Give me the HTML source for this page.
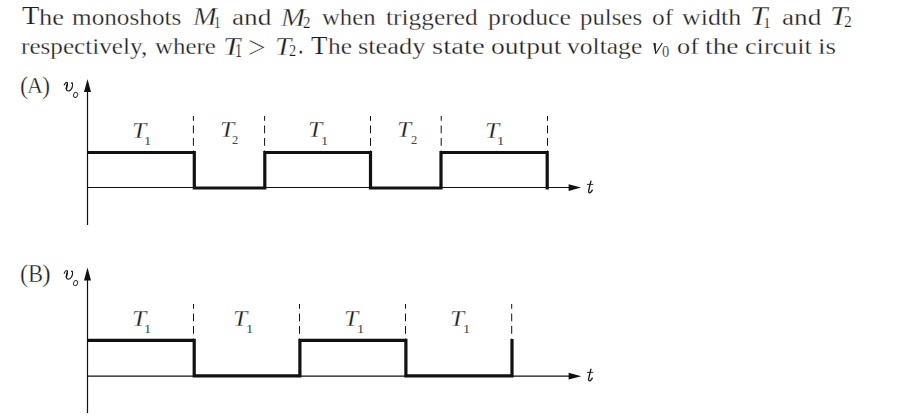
<!DOCTYPE html>
<html><head><meta charset="utf-8">
<style>
html,body{margin:0;padding:0;background:#fff;}
body{width:901px;height:418px;position:relative;overflow:hidden;font-family:"Liberation Serif",serif;color:#1c1c1c;}
.w{-webkit-text-stroke:0.3px #fff;position:absolute;white-space:nowrap;font-size:26px;line-height:1;transform-origin:0 21.8px;}
.sb{font-size:16px;position:relative;top:4px;margin-left:-1px;}
.L{position:absolute;white-space:nowrap;line-height:1;transform-origin:0 0;}
.lb{font-size:21px;-webkit-text-stroke:0.3px #fff;}
.lp{font-size:21px;-webkit-text-stroke:0.3px #fff;}
.lt{font-size:22px;-webkit-text-stroke:0.25px #fff;}
.ls{font-size:12px;color:#444;}
.mt{font-size:26px;-webkit-text-stroke:0.35px #fff;}
.mr{font-size:26px;-webkit-text-stroke:0.35px #fff;}
.mc{font-size:26px;-webkit-text-stroke:0.2px #fff;}
.ms{font-size:17px;-webkit-text-stroke:0.2px #fff;}
svg{position:absolute;left:0;top:0;}
</style></head><body>
<span class="w" id="a0" style="left:38.57px;top:4px;transform:scale(1.0166,0.86)">he</span>
<span class="w" id="a1" style="left:72.44px;top:4px;transform:scale(0.9707,0.86)">monoshots</span>
<span class="w" id="a2" style="left:231.76px;top:4px;transform:scale(1.0485,0.86)">and</span>
<span class="w" id="a3" style="left:322.40px;top:4px;transform:scale(0.9516,0.86)">when</span>
<span class="w" id="a4" style="left:386.22px;top:4px;transform:scale(0.9765,0.86)">triggered</span>
<span class="w" id="a5" style="left:488.17px;top:4px;transform:scale(0.9905,0.86)">produce</span>
<span class="w" id="a6" style="left:580.33px;top:4px;transform:scale(0.9546,0.86)">pulses</span>
<span class="w" id="a7" style="left:651.59px;top:4px;transform:scale(0.9757,0.86)">of</span>
<span class="w" id="a8" style="left:681.64px;top:4px;transform:scale(0.9980,0.86)">width</span>
<span class="w" id="a9" style="left:781.76px;top:4px;transform:scale(1.0485,0.86)">and</span>
<span class="w" id="b0" style="left:21.42px;top:33px;transform:scale(0.9675,0.86)">respectively,</span>
<span class="w" id="b1" style="left:155.40px;top:33px;transform:scale(0.9575,0.86)">where</span>
<span class="w" id="b2" style="left:328.17px;top:33px;transform:scale(0.9785,0.86)">he</span>
<span class="w" id="b3" style="left:358.29px;top:33px;transform:scale(1.0138,0.86)">steady</span>
<span class="w" id="b4" style="left:432.43px;top:33px;transform:scale(1.1049,0.86)">state</span>
<span class="w" id="b5" style="left:491.23px;top:33px;transform:scale(1.0594,0.86)">output</span>
<span class="w" id="b6" style="left:566.51px;top:33px;transform:scale(0.9831,0.86)">voltage</span>
<span class="w" id="b7" style="left:677.44px;top:33px;transform:scale(1.0132,0.86)">of</span>
<span class="w" id="b8" style="left:705.07px;top:33px;transform:scale(1.0561,0.86)">the</span>
<span class="w" id="b9" style="left:744.71px;top:33px;transform:scale(1.0064,0.86)">circuit</span>
<span class="w" id="b10" style="left:817.51px;top:33px;transform:scale(1.0415,0.86)">is</span>
<svg width="901" height="418" viewBox="0 0 901 418">
<g fill="none" stroke="#111">
  <line x1="87.5" y1="88" x2="87.5" y2="225" stroke-width="1.2"/>
  <line x1="87" y1="187.5" x2="572" y2="187.5" stroke-width="1.2"/>
  <polyline points="87,152.5 194.3,152.5 194.3,188 264.8,188 264.8,152.5 370.5,152.5 370.5,188 441,188 441,152.5 547.2,152.5 547.2,189.6" stroke-width="3.2"/>
  <g stroke-width="1" stroke-dasharray="7.8 4.7" stroke-dashoffset="3">
    <line x1="193.4" y1="116" x2="193.4" y2="151"/>
    <line x1="264.6" y1="116" x2="264.6" y2="151"/>
    <line x1="370.5" y1="116" x2="370.5" y2="151"/>
    <line x1="441.2" y1="116" x2="441.2" y2="151"/>
    <line x1="547.5" y1="116" x2="547.5" y2="151"/>
  </g>
  <line x1="87.5" y1="276" x2="87.5" y2="413" stroke-width="1.2"/>
  <line x1="87" y1="376.2" x2="572" y2="376.2" stroke-width="1.2"/>
  <polyline points="87,340.4 194.2,340.4 194.2,375.8 299.9,375.8 299.9,340.4 405.9,340.4 405.9,375.8 512,375.8 512,339" stroke-width="3.2"/>
  <g stroke-width="1" stroke-dasharray="7.8 4.7" stroke-dashoffset="3">
    <line x1="193.5" y1="304" x2="193.5" y2="339"/>
    <line x1="299.5" y1="304" x2="299.5" y2="339"/>
    <line x1="405.5" y1="304" x2="405.5" y2="339"/>
    <line x1="511.7" y1="304" x2="511.7" y2="339"/>
  </g>
</g>
<g fill="#111">
  <polygon points="87.5,79 84,92 91,92"/>
  <polygon points="581,187.6 568.6,184.2 568.6,191"/>
  <polygon points="87.5,267.5 84,280.5 91,280.5"/>
  <polygon points="581.3,376.2 568.6,372.8 568.6,379.6"/>
</g>
<g fill="none" stroke="#1a1a1a" stroke-width="1.15" stroke-linecap="round">
  <path d="M64.2,85 C64.9,83.3 65.9,82.3 66.9,82.3 C67.6,82.3 67.5,83.5 67.2,84.8 C66.8,86.4 66.3,87.8 66.4,89 C66.5,90.3 67.3,91 68.3,91 C70.2,91 72.5,88.5 72.6,85 C72.6,83.8 72.4,83.1 71.9,82.8"/><path d="M67.2,84.8 C66.8,86.4 66.3,87.8 66.4,89" stroke-width="1.6"/><circle cx="71.9" cy="83.2" r="0.75" fill="#1a1a1a" stroke="none"/>
  <ellipse cx="75.6" cy="94.9" rx="2.0" ry="2.6" transform="rotate(25 75.6 94.9)" stroke-width="0.9" stroke="#333"/>
  <g transform="translate(0,188.2)"><path d="M64.2,85 C64.9,83.3 65.9,82.3 66.9,82.3 C67.6,82.3 67.5,83.5 67.2,84.8 C66.8,86.4 66.3,87.8 66.4,89 C66.5,90.3 67.3,91 68.3,91 C70.2,91 72.5,88.5 72.6,85 C72.6,83.8 72.4,83.1 71.9,82.8"/><path d="M67.2,84.8 C66.8,86.4 66.3,87.8 66.4,89" stroke-width="1.6"/><circle cx="71.9" cy="83.2" r="0.75" fill="#1a1a1a" stroke="none"/>
  <ellipse cx="75.6" cy="94.9" rx="2.0" ry="2.6" transform="rotate(25 75.6 94.9)" stroke-width="0.9" stroke="#333"/></g>
  <path d="M590.9,181.2 L588.7,190.3 C588.4,191.7 588.7,192.9 589.6,192.9 C590.6,192.9 591.5,191.6 592.3,190.2" stroke-width="1.35"/><path d="M587.3,184.4 L592.9,184.4" stroke-width="0.9"/>
  <g transform="translate(0,188)"><path d="M590.9,181.2 L588.7,190.3 C588.4,191.7 588.7,192.9 589.6,192.9 C590.6,192.9 591.5,191.6 592.3,190.2" stroke-width="1.35"/><path d="M587.3,184.4 L592.9,184.4" stroke-width="0.9"/></g>
</g>
<polygon points="653.3,43.0 655.7,43.0 656.1,52.0 661.7,43.0 662.9,43.0 656.1,54.0 655.3,54.0" fill="#222"/>
</svg>
<span class="L mc" id="c1" style="left:21.50px;top:3.48px;transform:scale(1.0909,0.9891)">T</span>
<span class="L mc" id="c2" style="left:311.37px;top:32.60px;transform:scale(1.0363,1.0002)">T</span>
<span class="L lp" id="pA0" style="left:20.49px;top:74.17px;transform:scale(1.1629,1.1817)">(</span>
<span class="L lb" id="pA1" style="left:27.43px;top:74.25px;transform:scale(1.0525,1.1093)">A</span>
<span class="L lp" id="pA2" style="left:42.46px;top:74.31px;transform:scale(1.1662,1.1775)">)</span>
<span class="L lp" id="pB0" style="left:20.49px;top:262.17px;transform:scale(1.1629,1.1817)">(</span>
<span class="L lb" id="pB1" style="left:27.52px;top:262.19px;transform:scale(1.0738,1.1597)">B</span>
<span class="L lp" id="pB2" style="left:41.68px;top:262.30px;transform:scale(1.2536,1.1781)">)</span>
<span class="L mt" id="m1" style="left:192.60px;top:4.25px;transform:scale(1.0963,0.9999)"><i>M</i></span>
<span class="L ms" id="m1s" style="left:213.58px;top:12.99px;transform:scale(0.7793,1.0419)">1</span>
<span class="L mt" id="m2" style="left:281.48px;top:4.72px;transform:scale(1.1134,1.0030)"><i>M</i></span>
<span class="L ms" id="m2s" style="left:302.84px;top:14.02px;transform:scale(0.8870,0.9890)">2</span>
<span class="L mt" id="m3" style="left:750.48px;top:2.37px;transform:scale(1.2091,1.0827)"><i>T</i></span>
<span class="L ms" id="m3s" style="left:763.26px;top:15.14px;transform:scale(0.9198,0.9100)">1</span>
<span class="L mt" id="m4" style="left:830.36px;top:2.37px;transform:scale(1.2091,1.0827)"><i>T</i></span>
<span class="L ms" id="m4s" style="left:843.55px;top:14.43px;transform:scale(0.9150,0.9305)">2</span>
<span class="L mt" id="m5" style="left:222.82px;top:33.80px;transform:scale(1.1890,0.9973)"><i>T</i></span>
<span class="L ms" id="m5s" style="left:235.25px;top:42.02px;transform:scale(0.8350,1.0777)">1</span>
<span class="L mr" id="m6" style="left:248.32px;top:32.25px;transform:scale(1.2054,1.2358)">&gt;</span>
<span class="L mt" id="m7" style="left:275.34px;top:33.78px;transform:scale(1.1215,1.0002)"><i>T</i></span>
<span class="L ms" id="m7s" style="left:288.51px;top:42.06px;transform:scale(0.8461,1.0339)">2</span>
<span class="L mr" id="m7p" style="left:297.50px;top:27.93px;transform:scale(0.8492,1.2439)">.</span>
<span class="L ms" id="m8s" style="left:662.12px;top:44.15px;transform:scale(0.8528,0.9398)">0</span>
<span class="L lt" id="TA0" style="left:131.87px;top:118.82px;transform:scale(1.1625,1.0505)"><i>T</i></span>
<span class="L ls" id="SA0" style="left:144.41px;top:133.50px;transform:scale(1.2008,1.1009)">1</span>
<span class="L lt" id="TA1" style="left:219.55px;top:118.40px;transform:scale(1.1591,1.0510)"><i>T</i></span>
<span class="L ls" id="SA1" style="left:232.49px;top:133.27px;transform:scale(1.0381,1.0992)">2</span>
<span class="L lt" id="TA2" style="left:308.23px;top:118.43px;transform:scale(1.1583,1.0509)"><i>T</i></span>
<span class="L ls" id="SA2" style="left:320.76px;top:133.71px;transform:scale(1.2042,1.0999)">1</span>
<span class="L lt" id="TA3" style="left:397.41px;top:118.39px;transform:scale(1.1591,1.0509)"><i>T</i></span>
<span class="L ls" id="SA3" style="left:410.83px;top:133.27px;transform:scale(1.0417,1.1036)">2</span>
<span class="L lt" id="TA4" style="left:485.03px;top:118.78px;transform:scale(1.1595,1.0507)"><i>T</i></span>
<span class="L ls" id="SA4" style="left:497.47px;top:133.50px;transform:scale(1.2008,1.1009)">1</span>
<span class="L lt" id="TB0" style="left:131.85px;top:306.92px;transform:scale(1.1625,1.0492)"><i>T</i></span>
<span class="L ls" id="SB0" style="left:144.41px;top:321.50px;transform:scale(1.2008,1.1009)">1</span>
<span class="L lt" id="TB1" style="left:232.67px;top:306.94px;transform:scale(1.1609,1.0488)"><i>T</i></span>
<span class="L ls" id="SB1" style="left:246.04px;top:321.73px;transform:scale(1.2023,1.1010)">1</span>
<span class="L lt" id="TB2" style="left:343.69px;top:306.94px;transform:scale(1.1609,1.0488)"><i>T</i></span>
<span class="L ls" id="SB2" style="left:356.53px;top:321.50px;transform:scale(1.2008,1.1009)">1</span>
<span class="L lt" id="TB3" style="left:449.50px;top:307.36px;transform:scale(1.1583,1.0489)"><i>T</i></span>
<span class="L ls" id="SB3" style="left:462.51px;top:321.52px;transform:scale(1.1966,1.0997)">1</span>
</body></html>
